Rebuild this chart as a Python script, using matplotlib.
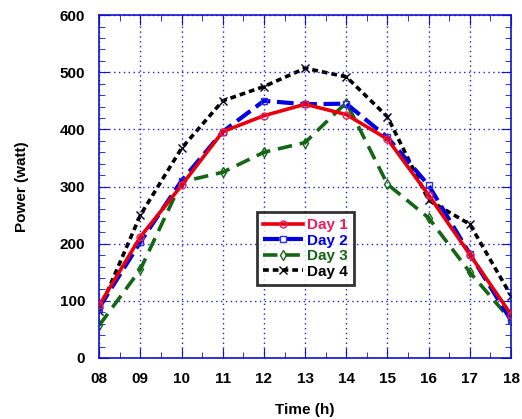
import matplotlib
matplotlib.use("Agg")
import matplotlib.pyplot as plt
from matplotlib.ticker import MultipleLocator

hours = [8, 9, 10, 11, 12, 13, 14, 15, 16, 17, 18]
hour_labels = ["08", "09", "10", "11", "12", "13", "14", "15", "16", "17", "18"]

day1 = [92, 212, 302, 396, 424, 444, 426, 383, 285, 181, 76]
day2 = [88, 203, 310, 396, 450, 444, 445, 386, 302, 182, 66]
day3 = [57, 155, 308, 325, 360, 377, 447, 304, 245, 150, 66]
day4 = [83, 250, 367, 450, 475, 507, 492, 422, 276, 234, 109]

plt.rcParams['font.family'] = ['Liberation Sans', 'DejaVu Sans']
plt.rcParams['font.weight'] = 'bold'

fig = plt.figure(figsize=(5.22, 4.19), dpi=100)
ax = fig.add_axes([0.19, 0.1456, 0.789, 0.8184])

ax.plot(hours, day1, color='#e8000b', lw=2.6, ls='-', marker='o', ms=5,
        mfc='none', mec='#e8205a', mew=1, label='Day 1', zorder=4)
ax.plot(hours, day2, color='#0000e6', lw=3, ls=(0, (4, 1.6)), marker='s', ms=5,
        mfc='none', mec='#3030e0', mew=1, label='Day 2', zorder=3)
ax.plot(hours, day3, color='#146614', lw=2.6, ls=(0, (4, 2.2)), marker='d', ms=5,
        mfc='none', mec='#146614', mew=1, label='Day 3', zorder=2)
ax.plot(hours, day4, color='black', lw=2.6, ls=(0, (1.6, 1.1)), marker='x', ms=6,
        mec='black', mew=1, label='Day 4', zorder=1)

ax.set_xlim(8, 18)
ax.set_ylim(0, 600)
ax.set_xticks(hours)
ax.set_xticklabels(hour_labels)
ax.xaxis.set_minor_locator(MultipleLocator(0.5))
ax.yaxis.set_major_locator(MultipleLocator(100))
ax.yaxis.set_minor_locator(MultipleLocator(20))

ax.grid(True, which='major', color='#2020e0', ls=(0, (1, 2.5)), lw=1)
for s in ax.spines.values():
    s.set_color('#1010d0')
    s.set_linewidth(1.2)
ax.tick_params(which='both', direction='in', top=True, right=True, color='#1010d0')
ax.tick_params(which='major', length=7, labelsize=11, pad=10)
ax.tick_params(which='minor', length=4)
for lab in ax.get_xticklabels() + ax.get_yticklabels():
    lab.set_fontweight('bold')

ax.set_xlabel('Time (h)', fontsize=11, fontweight='bold', labelpad=12)
ax.set_ylabel('Power (watt)', fontsize=11, fontweight='bold', labelpad=22)

leg = ax.legend(loc='lower left', bbox_to_anchor=(0.383, 0.213), fontsize=11,
                frameon=True, fancybox=False, handlelength=2.6, handletextpad=0.3,
                labelspacing=0.1, borderpad=0.4, borderaxespad=0)
leg.get_frame().set_edgecolor('black')
leg.get_frame().set_linewidth(2)
text_colors = ['#e8205a', '#0000e6', '#146614', 'black']
for t, c in zip(leg.get_texts(), text_colors):
    t.set_color(c)
    t.set_fontweight('bold')

fig.savefig('out.png', dpi=100)
